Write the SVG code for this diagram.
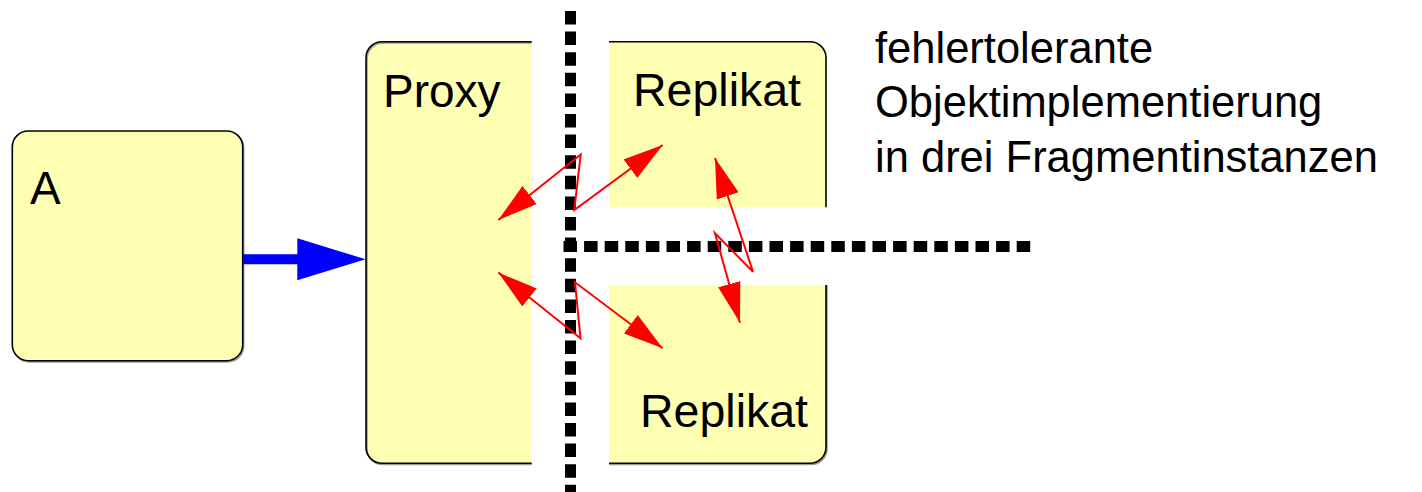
<svg xmlns="http://www.w3.org/2000/svg" width="1422" height="492" viewBox="0 0 1422 492">
  <style>
    .fill { fill: #FFFFB4; stroke: none; }
    .border { fill: none; stroke: #000; stroke-width: 1.6; }
    .shadow { fill: none; stroke: #999; stroke-width: 1.6; }
    .label { font-family: "Liberation Sans", Arial, sans-serif; fill: #000; }
    .dash { stroke: #000; stroke-width: 11; fill: none; stroke-dasharray: 13.5 7.1; }
    .red { fill: none; stroke: #FF0000; stroke-width: 2; stroke-linejoin: miter; }
  </style>
  <defs>
    <marker id="redHead" markerUnits="userSpaceOnUse" viewBox="0 0 40 24" markerWidth="40" markerHeight="24" refX="40" refY="12" orient="auto-start-reverse">
      <path d="M0,0.5 L40,12 L0,23.5 z" fill="#FF0000"/>
    </marker>
  </defs>

  <g id="nodeA">
    <rect class="shadow" x="13.3" y="132.2" width="230.4" height="229.7" rx="16"/>
    <rect class="fill" x="12.3" y="131" width="230.4" height="229.7" rx="16"/>
    <rect class="border" x="12.3" y="131" width="230.4" height="229.7" rx="16"/>
    <text class="label" x="30" y="204" font-size="46">A</text>
  </g>

  <g id="proxy">
    <path class="fill" d="M531.7,41.7 H382 A16,16 0 0 0 366,57.7 V447.3 A16,16 0 0 0 382,463.3 H531.7 Z"/>
    <path class="shadow" d="M531.7,42.9 H383 A16,16 0 0 0 367,58.9 V448.5 A16,16 0 0 0 383,464.5 H531.7"/>
    <path class="border" d="M531.7,41.7 H382 A16,16 0 0 0 366,57.7 V447.3 A16,16 0 0 0 382,463.3 H531.7"/>
    <text class="label" x="383" y="106.7" font-size="46">Proxy</text>
  </g>

  <g id="replikat1">
    <path class="fill" d="M609,41.7 H810 A16,16 0 0 1 826,57.7 V207.3 H609 Z"/>
    <path class="border" d="M609,41.7 H810 A16,16 0 0 1 826,57.7 V207.3"/>
    <text class="label" x="633" y="106" font-size="46.5">Replikat</text>
  </g>

  <g id="replikat2">
    <path class="fill" d="M609,285 H826 V447.3 A16,16 0 0 1 810,463.3 H609 Z"/>
    <path class="shadow" d="M827,285 V448.5 A16,16 0 0 1 811,464.5 H609"/>
    <path class="border" d="M826,285 V447.3 A16,16 0 0 1 810,463.3 H609"/>
    <text class="label" x="640" y="427.3" font-size="46.5">Replikat</text>
  </g>

  <g id="boundaries">
    <line class="dash" x1="570.5" y1="11" x2="570.5" y2="492"/>
    <line class="dash" x1="563.5" y1="246.5" x2="1036" y2="246.5"/>
  </g>

  <g id="connectors">
    <line x1="243" y1="259.3" x2="300" y2="259.3" stroke="#0000FF" stroke-width="10"/>
    <path d="M297.3,238.3 L365.7,259.3 L297.3,280.3 z" fill="#0000FF"/>
    <polyline class="red" points="498.3,220 580.7,154.5 574.3,210 662.7,145" marker-start="url(#redHead)" marker-end="url(#redHead)"/>
    <polyline class="red" points="498.3,272.5 580.5,338.3 575,282.3 662.7,348.3" marker-start="url(#redHead)" marker-end="url(#redHead)"/>
    <polyline class="red" points="715,158 753,271.7 715,233.3 740,322.7" marker-start="url(#redHead)" marker-end="url(#redHead)"/>
  </g>

  <g id="annotation">
    <text class="label" x="875" y="63.3" font-size="43.5">fehlertolerante</text>
    <text class="label" x="875" y="117" font-size="43.5">Objektimplementierung</text>
    <text class="label" x="875" y="171.5" font-size="43.5">in drei Fragmentinstanzen</text>
  </g>
</svg>
